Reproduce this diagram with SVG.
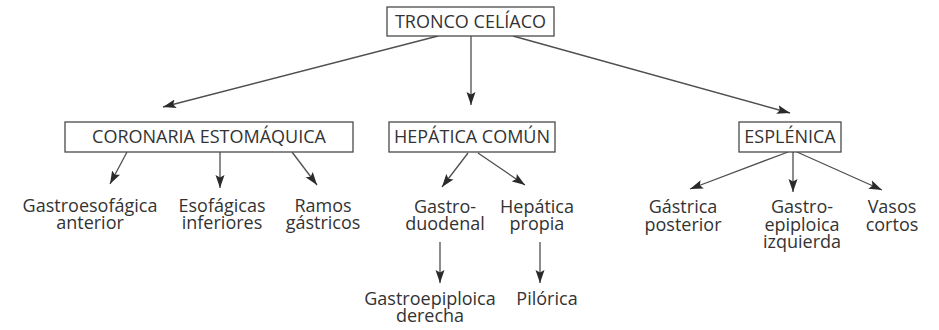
<svg xmlns="http://www.w3.org/2000/svg" width="939" height="330" viewBox="0 0 939 330">
  <style>
    .box { fill: #ffffff; stroke: #4a4a4a; stroke-width: 1.3; }
    .lbl { font-family: "Open Sans", "Noto Sans", sans-serif; font-size: 18px; fill: #333333; text-anchor: middle; }
    .edge { stroke: #4f4f4f; stroke-width: 1.3; fill: none; marker-end: url(#arrow); }
  </style>
  <defs>
    <marker id="arrow" markerUnits="userSpaceOnUse" markerWidth="14" markerHeight="10" refX="13" refY="5" orient="auto">
      <path d="M0,0.5 L13,5 L0,9.5 L2.5,5 Z" fill="#2a2a2a"/>
    </marker>
  </defs>
  <rect width="939" height="330" fill="#ffffff"/>

  <g id="connectors">
    <line class="edge" x1="438" y1="36" x2="163" y2="107"/>
    <line class="edge" x1="471" y1="36" x2="471" y2="105"/>
    <line class="edge" x1="513" y1="36" x2="790" y2="113"/>

    <line class="edge" x1="127" y1="152" x2="110" y2="184"/>
    <line class="edge" x1="220" y1="152" x2="220" y2="188"/>
    <line class="edge" x1="292" y1="152" x2="317" y2="185"/>

    <line class="edge" x1="468" y1="153" x2="442" y2="187"/>
    <line class="edge" x1="478" y1="153" x2="525" y2="185"/>
    <line class="edge" x1="440" y1="242" x2="440" y2="283"/>
    <line class="edge" x1="540" y1="242" x2="540" y2="283"/>

    <line class="edge" x1="788" y1="152" x2="690" y2="189"/>
    <line class="edge" x1="793" y1="152" x2="793" y2="192"/>
    <line class="edge" x1="797" y1="152" x2="882" y2="190"/>
  </g>

  <g id="tronco-celiaco">
    <rect class="box" x="387" y="7" width="167" height="29"/>
    <text class="lbl" x="470.5" y="28">TRONCO CELÍACO</text>
  </g>

  <g id="coronaria-estomaquica">
    <rect class="box" x="65" y="122" width="288" height="30"/>
    <text class="lbl" x="209" y="143">CORONARIA ESTOMÁQUICA</text>
  </g>
  <g id="hepatica-comun">
    <rect class="box" x="389" y="122" width="166" height="30"/>
    <text class="lbl" x="472" y="143">HEPÁTICA COMÚN</text>
  </g>
  <g id="esplenica">
    <rect class="box" x="739" y="122" width="102" height="30"/>
    <text class="lbl" x="790" y="143">ESPLÉNICA</text>
  </g>

  <g id="gastroesofagica-anterior">
    <text class="lbl" x="90" y="212">Gastroesofágica</text>
    <text class="lbl" x="90" y="229">anterior</text>
  </g>
  <g id="esofagicas-inferiores">
    <text class="lbl" x="222" y="212">Esofágicas</text>
    <text class="lbl" x="222" y="229">inferiores</text>
  </g>
  <g id="ramos-gastricos">
    <text class="lbl" x="323" y="212">Ramos</text>
    <text class="lbl" x="323" y="229">gástricos</text>
  </g>

  <g id="gastroduodenal">
    <text class="lbl" x="445" y="213">Gastro-</text>
    <text class="lbl" x="445" y="230">duodenal</text>
  </g>
  <g id="hepatica-propia">
    <text class="lbl" x="537" y="213">Hepática</text>
    <text class="lbl" x="537" y="230">propia</text>
  </g>
  <g id="gastroepiploica-derecha">
    <text class="lbl" x="430" y="305">Gastroepiploica</text>
    <text class="lbl" x="430" y="322">derecha</text>
  </g>
  <g id="pilorica">
    <text class="lbl" x="547" y="305">Pilórica</text>
  </g>

  <g id="gastrica-posterior">
    <text class="lbl" x="683" y="213">Gástrica</text>
    <text class="lbl" x="683" y="231">posterior</text>
  </g>
  <g id="gastroepiploica-izquierda">
    <text class="lbl" x="802" y="213">Gastro-</text>
    <text class="lbl" x="802" y="231">epiploica</text>
    <text class="lbl" x="802" y="248">izquierda</text>
  </g>
  <g id="vasos-cortos">
    <text class="lbl" x="892" y="213">Vasos</text>
    <text class="lbl" x="892" y="231">cortos</text>
  </g>
</svg>
